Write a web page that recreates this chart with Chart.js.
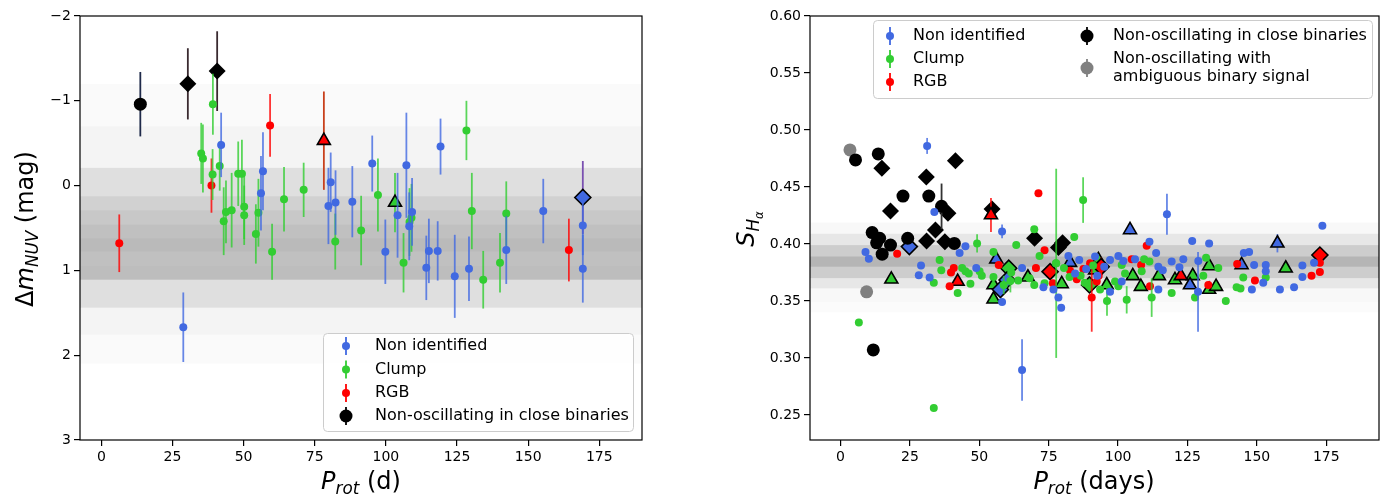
<!DOCTYPE html>
<html>
<head>
<meta charset="utf-8">
<script src="https://cdn.jsdelivr.net/npm/chart.js@4.4.1/dist/chart.umd.min.js"></script>
<style>
  body { margin: 0; background: #fff; }
  .panel { position: absolute; top: 0; width: 695px; height: 497px; }
  canvas { display: block; }
</style>
</head>
<body>
<div class="panel" style="left:0"><canvas id="nuv" width="695" height="497"></canvas></div>
<div class="panel" style="left:695px"><canvas id="sha" width="695" height="497"></canvas></div>
<script>
// ---- left panel: Delta m_NUV vs P_rot, rows are [P_rot, dm, err]
const nuvBlue = [
  [28.8, 1.67, 0.41], [42.1, -0.48, 0.38], [56.8, -0.17, 0.46], [56.1, 0.09, 0.44],
  [80.6, -0.04, 0.35], [79.8, 0.24, 0.45], [82.3, 0.20, 0.38], [88.2, 0.19, 0.42],
  [95.2, -0.26, 0.33], [99.8, 0.78, 0.38], [104.1, 0.35, 0.50], [107.2, -0.24, 0.62],
  [108.2, 0.48, 0.40], [109.2, 0.31, 0.40], [119.2, -0.46, 0.33], [115.1, 0.77, 0.38],
  [114.2, 0.97, 0.38], [118.2, 0.77, 0.35], [124.2, 1.07, 0.49], [129.2, 0.98, 0.38],
  [142.3, 0.76, 0.40], [155.3, 0.30, 0.38], [169.2, 0.47, 0.35], [169.2, 0.98, 0.40]
];
const nuvGreen = [
  [39.2, -0.96, 0.36], [35.1, -0.38, 0.36], [35.7, -0.32, 0.40], [41.6, -0.23, 0.29],
  [39.1, -0.13, 0.30], [48.1, -0.14, 0.38], [49.4, -0.14, 0.40], [50.2, 0.25, 0.38],
  [50.2, 0.35, 0.35], [43.8, 0.31, 0.37], [45.8, 0.29, 0.44], [43.0, 0.42, 0.40],
  [55.2, 0.32, 0.40], [54.3, 0.57, 0.35], [60.0, 0.78, 0.33], [64.2, 0.16, 0.38],
  [71.1, 0.05, 0.32], [82.2, 0.66, 0.33], [91.3, 0.53, 0.41], [97.2, 0.11, 0.43],
  [106.2, 0.91, 0.35], [108.3, 0.43, 0.40], [109.0, 0.38, 0.40], [128.3, -0.65, 0.35],
  [130.2, 0.30, 0.45], [142.3, 0.33, 0.38], [140.1, 0.91, 0.35], [134.2, 1.11, 0.34]
];
const nuvRed = [[6.3, 0.68, 0.34], [59.3, -0.71, 0.37], [38.7, 0.00, 0.32], [164.3, 0.76, 0.37]];
const nuvBlack = [[13.7, -0.96, 0.38]];
const nuvBlackDiamond = [[30.4, -1.20, 0.42], [40.7, -1.35, 0.47]];
const nuvRedTri = [[78.2, -0.53, 0.58]];
const nuvGreenTri = [[103.2, 0.20, 0.35]];
const nuvBlueDiamond = [[169.2, 0.14, 0.43]];
const nuvBands = [[-1.20, 2.10], [-0.70, 1.76], [-0.21, 1.44], [0.126, 1.11], [0.29, 1.11], [0.46, 1.11], [0.62, 0.78], [0.95, 1.11]];

const nuvXTicks = [0, 25, 50, 75, 100, 125, 150, 175];
const nuvYTicks = [-2, -1, 0, 1, 2, 3];

// ---- right panel: S_Halpha vs P_rot, rows are [P_rot, S, err]
const shaBlue = [
  [9.0, 0.393], [10.2, 0.387], [31.2, 0.486, 0.007], [33.8, 0.428], [29.0, 0.381], [28.2, 0.3725],
  [32.1, 0.3705], [42.9, 0.392], [45.0, 0.398], [48.9, 0.379], [58.2, 0.411, 0.006], [65.4, 0.379],
  [65.4, 0.2895, 0.027], [73.1, 0.362], [76.7, 0.360], [78.5, 0.353], [79.5, 0.344], [82.1, 0.3895],
  [58.2, 0.349], [84.5, 0.374], [86.0, 0.386], [88.5, 0.378], [91.7, 0.389], [92.5, 0.372], [95.0, 0.380],
  [97.1, 0.386], [97.1, 0.358], [100.1, 0.3895], [101.9, 0.385], [101.3, 0.367], [106.1, 0.3865],
  [111.3, 0.402], [113.7, 0.392], [114.5, 0.380], [114.5, 0.360], [116.1, 0.377], [117.6, 0.426, 0.018],
  [119.3, 0.3845], [122.1, 0.3796], [123.5, 0.3865], [126.7, 0.4025], [128.9, 0.385], [128.8, 0.358, 0.035],
  [132.8, 0.4005], [145.3, 0.392], [147.2, 0.393], [149.0, 0.3815], [153.2, 0.3815], [153.2, 0.376],
  [152.3, 0.366], [148.2, 0.360], [158.3, 0.360], [163.4, 0.362], [166.4, 0.381], [166.4, 0.371],
  [170.6, 0.3835], [173.6, 0.416]
];
const shaGreen = [
  [6.6, 0.331], [33.6, 0.256], [35.7, 0.386], [36.3, 0.377], [33.6, 0.366], [42.2, 0.357], [43.8, 0.379],
  [45.0, 0.376], [46.2, 0.374], [46.8, 0.365], [49.2, 0.4005, 0.008], [50.1, 0.376], [50.9, 0.372],
  [55.1, 0.393], [55.1, 0.371], [58.8, 0.364, 0.008], [61.2, 0.3675, 0.01], [61.5, 0.375], [63.3, 0.399],
  [64.0, 0.368], [68.1, 0.370], [69.8, 0.413], [69.8, 0.364], [71.7, 0.3895], [73.5, 0.3655],
  [77.6, 0.383], [77.7, 0.383, 0.083], [80.5, 0.379], [82.5, 0.371], [84.2, 0.406], [86.5, 0.372],
  [87.4, 0.4385, 0.02], [88.0, 0.366], [91.0, 0.381], [93.5, 0.360], [96.0, 0.350, 0.013], [98.9, 0.367],
  [100.1, 0.363], [101.3, 0.3815], [102.5, 0.374], [103.1, 0.351, 0.012], [108.5, 0.376], [109.4, 0.3865],
  [111.3, 0.3845], [112.1, 0.353, 0.017], [119.3, 0.357], [127.7, 0.353], [130.7, 0.372], [131.7, 0.388],
  [136.1, 0.379], [138.8, 0.350], [142.7, 0.362], [144.1, 0.361], [145.1, 0.3705], [153.2, 0.3705]
];
const shaRed = [
  [20.4, 0.3915], [39.3, 0.363], [39.8, 0.375], [40.8, 0.379], [57.0, 0.3815], [70.4, 0.379],
  [71.3, 0.4445], [73.5, 0.3945], [76.5, 0.3655], [82.7, 0.3765], [85.1, 0.369], [87.5, 0.378],
  [89.9, 0.383], [90.5, 0.353, 0.03], [92.3, 0.367], [93.0, 0.372], [104.9, 0.3865], [108.3, 0.3815],
  [110.3, 0.3985], [111.5, 0.363], [132.5, 0.364], [142.9, 0.3825], [149.3, 0.368], [169.7, 0.372],
  [172.7, 0.3755], [172.7, 0.3835]
];
const shaBlack = [
  [5.4, 0.4737], [13.6, 0.479, 0.004], [22.5, 0.442], [31.8, 0.442], [36.4, 0.433, 0.02], [11.4, 0.410],
  [13.0, 0.401], [14.1, 0.405], [15.0, 0.391], [18.0, 0.399], [24.2, 0.405], [41.0, 0.4005], [11.8, 0.307]
];
const shaBlackDiamond = [
  [14.9, 0.4665], [30.9, 0.4588], [41.4, 0.473], [18.0, 0.429], [38.7, 0.427], [31.0, 0.4025],
  [34.2, 0.4123], [37.6, 0.402], [54.6, 0.4307], [69.9, 0.405], [78.5, 0.397], [80.0, 0.401]
];
const shaGray = [[3.4, 0.4825], [9.4, 0.358]];
const shaBlueDiamond = [[24.8, 0.3977], [60.0, 0.3684], [57.6, 0.360]];
const shaGreenDiamond = [[60.6, 0.3787], [89.7, 0.364]];
const shaRedDiamond = [[75.5, 0.3757], [93.9, 0.380, 0.008], [172.7, 0.3903]];
const shaBlueTri = [[56.1, 0.3866], [82.7, 0.3836], [104.3, 0.4123, 0.004], [125.9, 0.364], [144.5, 0.3816], [157.4, 0.4006, 0.008]];
const shaGreenTri = [
  [18.3, 0.369], [55.1, 0.364], [55.1, 0.3515], [67.5, 0.3708], [79.7, 0.3649], [92.9, 0.386],
  [91.7, 0.377], [95.9, 0.364], [105.3, 0.372], [108.2, 0.3626], [114.7, 0.372], [120.5, 0.3684],
  [126.9, 0.372], [132.8, 0.3807], [132.8, 0.360], [135.3, 0.3626], [160.4, 0.3787]
];
const shaRedTri = [[42.2, 0.367], [54.2, 0.4254, 0.015], [122.6, 0.372]];
const shaBands = [[0.340, 0.419], [0.349, 0.419], [0.361, 0.409], [0.370, 0.399], [0.380, 0.389]];

const shaXTicks = [0, 25, 50, 75, 100, 125, 150, 175];
const shaYTicks = [0.25, 0.30, 0.35, 0.40, 0.45, 0.50, 0.55, 0.60];

const BLUE = '#4169e1', GREEN = '#32cd32', RED = '#ff0000', GRAY = '#808080';
const FONT = 'DejaVu Sans';
Chart.defaults.font.family = FONT;

function rows(r) {
  return r.map(p => ({ x: p[0], y: p[1], e: p[2] || 0 }));
}

function series(label, data, color, errColor, style, radius, edge) {
  return {
    label, data: rows(data),
    pointStyle: style, pointRadius: radius, pointHoverRadius: radius,
    backgroundColor: color, borderColor: edge ? '#000' : color,
    pointBorderWidth: edge ? 1.6 : 0, errColor
  };
}

// vertical error bars drawn under each dataset's markers
const errorBars = {
  id: 'errorBars',
  beforeDatasetDraw(chart, args) {
    const ds = chart.data.datasets[args.index];
    if (!ds.errColor) return;
    const { ctx, scales: { x, y } } = chart;
    ctx.save();
    ctx.strokeStyle = ds.errColor;
    ctx.lineWidth = 1.8;
    ds.data.forEach(p => {
      if (!p.e) return;
      const px = x.getPixelForValue(p.x);
      ctx.beginPath();
      ctx.moveTo(px, y.getPixelForValue(p.y - p.e));
      ctx.lineTo(px, y.getPixelForValue(p.y + p.e));
      ctx.stroke();
    });
    ctx.restore();
  }
};

function bandsPlugin(edges, alphas) {
  return {
    id: 'bands',
    beforeDatasetsDraw(chart) {
      const { ctx, chartArea: a, scales: { y } } = chart;
      ctx.save();
      edges.forEach((b, i) => {
        const y1 = y.getPixelForValue(b[0]), y2 = y.getPixelForValue(b[1]);
        ctx.fillStyle = 'rgba(0,0,0,' + alphas[i] + ')';
        ctx.fillRect(a.left, Math.min(y1, y2), a.right - a.left, Math.abs(y2 - y1));
      });
      ctx.restore();
    }
  };
}

const frame = {
  id: 'frame',
  afterDatasetsDraw(chart) {
    const { ctx, chartArea: a } = chart;
    ctx.save();
    ctx.strokeStyle = '#000';
    ctx.lineWidth = 1.2;
    ctx.strokeRect(a.left, a.top, a.right - a.left, a.bottom - a.top);
    ctx.restore();
  }
};

// text with italic parts and (sub)subscripts: [text, italic, level]
function drawRich(ctx, parts, cx, cy, size, rot) {
  const drop = [0, 0.24, 0.40];
  const font = p => (p[1] ? 'italic ' : '') + (size * Math.pow(0.7, p[2])) + 'px "' + FONT + '"';
  ctx.save();
  ctx.translate(cx, cy);
  ctx.rotate(rot);
  ctx.fillStyle = '#000';
  ctx.textBaseline = 'alphabetic';
  let w = 0;
  parts.forEach(p => { ctx.font = font(p); w += ctx.measureText(p[0]).width; });
  let x = -w / 2;
  parts.forEach(p => {
    ctx.font = font(p);
    ctx.fillText(p[0], x, size * 0.36 + size * drop[p[2]]);
    x += ctx.measureText(p[0]).width;
  });
  ctx.restore();
}

function titlesPlugin(xParts, xPos, yParts, yPos, size) {
  return {
    id: 'titles',
    afterDraw(chart) {
      drawRich(chart.ctx, xParts, xPos[0], xPos[1], size, 0);
      drawRich(chart.ctx, yParts, yPos[0], yPos[1], size, -Math.PI / 2);
    }
  };
}

function legendPlugin(box, items) {
  return {
    id: 'boxLegend',
    afterDraw(chart) {
      const ctx = chart.ctx;
      ctx.save();
      ctx.beginPath();
      ctx.roundRect(box[0] + 0.5, box[1] + 0.5, box[2], box[3], 4);
      ctx.fillStyle = 'rgba(255,255,255,0.8)';
      ctx.fill();
      ctx.strokeStyle = '#cccccc';
      ctx.lineWidth = 1;
      ctx.stroke();
      items.forEach(it => {
        ctx.strokeStyle = it.color;
        ctx.lineWidth = 1.8;
        ctx.beginPath();
        ctx.moveTo(it.mx, it.my - 9);
        ctx.lineTo(it.mx, it.my + 9);
        ctx.stroke();
        ctx.fillStyle = it.color;
        ctx.beginPath();
        ctx.arc(it.mx, it.my, it.r, 0, Math.PI * 2);
        ctx.fill();
        ctx.fillStyle = '#000';
        ctx.font = '16px "' + FONT + '"';
        ctx.textBaseline = 'middle';
        it.text.forEach((t, i) => ctx.fillText(t, it.tx, it.ty + i * 18));
      });
      ctx.restore();
    }
  };
}

function axes(xr, xt, yr, yt, yWidth, fmt, reverse) {
  const tickFont = { family: FONT, size: 14 };
  const grid = { drawOnChartArea: false, drawTicks: true, tickLength: 6, color: '#000', lineWidth: 1.2 };
  return {
    x: {
      type: 'linear', min: xr[0], max: xr[1], grid, border: { display: false },
      ticks: { color: '#000', font: tickFont, padding: 3, maxRotation: 0, autoSkip: false },
      afterBuildTicks: s => { s.ticks = xt.map(v => ({ value: v })); },
      afterFit: s => { s.height = 57; }
    },
    y: {
      type: 'linear', min: yr[0], max: yr[1], reverse, grid, border: { display: false },
      ticks: { color: '#000', font: tickFont, padding: 3, autoSkip: false, callback: fmt },
      afterBuildTicks: s => { s.ticks = yt.map(v => ({ value: v })); },
      afterFit: s => { s.width = yWidth; }
    }
  };
}

function options(scales, padRight) {
  return {
    responsive: false, animation: false,
    layout: { padding: { top: 16, right: padRight, left: 0, bottom: 0 } },
    plugins: { legend: { display: false }, tooltip: { enabled: false } },
    scales
  };
}

const errA = c => c + 'cc';

new Chart(document.getElementById('nuv'), {
  type: 'scatter',
  data: {
    datasets: [
      series('Non identified', nuvBlue, BLUE, errA(BLUE), 'circle', 4),
      series('Clump', nuvGreen, GREEN, errA(GREEN), 'circle', 4),
      series('RGB', nuvRed, RED, errA(RED), 'circle', 4),
      series('Non-oscillating in close binaries', nuvBlack, '#000', '#1f2a4a', 'circle', 6.5),
      series('close binaries (diamond)', nuvBlackDiamond, '#000', '#3a2a30', 'rectRot', 8.5),
      series('RGB (triangle)', nuvRedTri, RED, '#c8401c', 'triangle', 7.5, true),
      series('Clump (triangle)', nuvGreenTri, GREEN, errA(GREEN), 'triangle', 7.5, true),
      series('Non identified (diamond)', nuvBlueDiamond, BLUE, '#7a50b0', 'rectRot', 8, true)
    ]
  },
  options: options(axes([-7.5, 190], nuvXTicks, [-2, 3], nuvYTicks, 80,
    v => String(v).replace('-', '\u2212'), true), 53),
  plugins: [
    errorBars,
    bandsPlugin(nuvBands, [0.02, 0.028, 0.086, 0.068, 0.043, 0.045, 0.03, 0.02]),
    frame,
    titlesPlugin([['P', true, 0], ['rot', true, 1], [' (d)', false, 0]], [361, 480],
      [['\u0394', false, 0], ['m', true, 0], ['NUV', true, 1], [' (mag)', false, 0]], [24, 229], 24),
    legendPlugin([323, 333, 310, 98], [
      { mx: 346, my: 346, r: 4, color: BLUE, tx: 375, ty: 346, text: ['Non identified'] },
      { mx: 346, my: 369.5, r: 4, color: GREEN, tx: 375, ty: 369.5, text: ['Clump'] },
      { mx: 346, my: 393, r: 4, color: RED, tx: 375, ty: 393, text: ['RGB'] },
      { mx: 346, my: 416, r: 6.5, color: '#000', tx: 375, ty: 416, text: ['Non-oscillating in close binaries'] }
    ])
  ]
});

new Chart(document.getElementById('sha'), {
  type: 'scatter',
  data: {
    datasets: [
      series('Non identified', shaBlue, BLUE, errA(BLUE), 'circle', 4),
      series('Clump', shaGreen, GREEN, errA(GREEN), 'circle', 4),
      series('RGB', shaRed, RED, errA(RED), 'circle', 4),
      series('Non-oscillating in close binaries', shaBlack, '#000', '#333', 'circle', 6.5),
      series('Non-oscillating with ambiguous binary signal', shaGray, GRAY, GRAY, 'circle', 6.5),
      series('RGB (triangle)', shaRedTri, RED, errA(RED), 'triangle', 7.5, true),
      series('close binaries (diamond)', shaBlackDiamond, '#000', '#333', 'rectRot', 8.5),
      series('Non identified (diamond)', shaBlueDiamond, BLUE, errA(BLUE), 'rectRot', 8, true),
      series('Clump (diamond)', shaGreenDiamond, GREEN, errA(GREEN), 'rectRot', 8, true),
      series('RGB (diamond)', shaRedDiamond, RED, errA(RED), 'rectRot', 8, true),
      series('Non identified (triangle)', shaBlueTri, BLUE, errA(BLUE), 'triangle', 7.5, true),
      series('Clump (triangle)', shaGreenTri, GREEN, errA(GREEN), 'triangle', 7.5, true)
    ]
  },
  options: options(axes([-11, 194], shaXTicks, [0.228, 0.60], shaYTicks, 115,
    v => v.toFixed(2), false), 11),
  plugins: [
    errorBars,
    bandsPlugin(shaBands, [0.016, 0.016, 0.069, 0.113, 0.118]),
    frame,
    titlesPlugin([['P', true, 0], ['rot', true, 1], [' (days)', false, 0]], [399, 480],
      [['S', true, 0], ['H', true, 1], ['\u03b1', true, 2]], [50, 229], 24),
    legendPlugin([178, 20, 499, 78], [
      { mx: 195, my: 36, r: 4, color: BLUE, tx: 218, ty: 36, text: ['Non identified'] },
      { mx: 195, my: 59, r: 4, color: GREEN, tx: 218, ty: 59, text: ['Clump'] },
      { mx: 195, my: 82, r: 4, color: RED, tx: 218, ty: 82, text: ['RGB'] },
      { mx: 392, my: 36, r: 6.5, color: '#000', tx: 418, ty: 36, text: ['Non-oscillating in close binaries'] },
      { mx: 392, my: 68, r: 6.5, color: GRAY, tx: 418, ty: 59, text: ['Non-oscillating with', 'ambiguous binary signal'] }
    ])
  ]
});
</script>
</body>
</html>
